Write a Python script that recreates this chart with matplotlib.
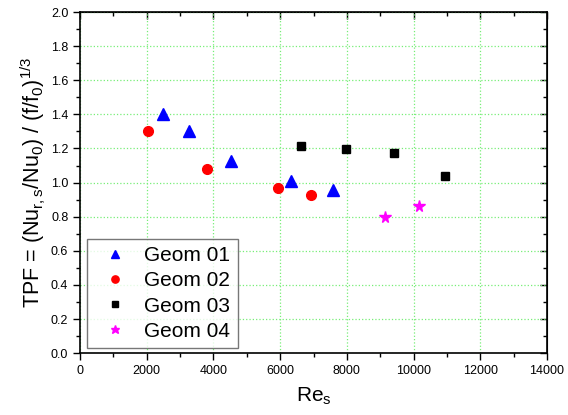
import numpy as np
import matplotlib
matplotlib.use("Agg")
from matplotlib import pyplot as plt
from matplotlib.ticker import MultipleLocator

plt.rcParams['font.family'] = ['Liberation Sans', 'DejaVu Sans']
plt.rcParams['mathtext.fontset'] = 'custom'
plt.rcParams['mathtext.rm'] = 'Liberation Sans'
plt.rcParams['mathtext.it'] = 'Liberation Sans'

# data
re_g1 = [2490, 3280, 4520, 6320, 7580]
tpf_g1 = [1.40, 1.30, 1.125, 1.01, 0.955]
re_g2 = [2040, 3810, 5940, 6910]
tpf_g2 = [1.305, 1.08, 0.97, 0.93]
re_g3 = [6610, 7960, 9420, 10930]
tpf_g3 = [1.215, 1.198, 1.176, 1.038]
re_g4 = [9130, 10150]
tpf_g4 = [0.798, 0.862]

fig = plt.figure(figsize=(5.68, 4.15), dpi=100)
ax = fig.add_axes([0.141, 0.149, 0.822, 0.822])

ax.plot(re_g1, tpf_g1, linestyle='none', marker='^', color='blue', markersize=8, label='Geom 01')
ax.plot(re_g2, tpf_g2, linestyle='none', marker='o', color='red', markersize=7, label='Geom 02')
ax.plot(re_g3, tpf_g3, linestyle='none', marker='s', color='black', markersize=5.5, label='Geom 03')
ax.plot(re_g4, tpf_g4, linestyle='none', marker='*', color='magenta', markersize=8.5, label='Geom 04')

ax.set_xlim(0, 14000)
ax.set_ylim(0, 2.0)
ax.xaxis.set_major_locator(MultipleLocator(2000))
ax.xaxis.set_minor_locator(MultipleLocator(1000))
ax.yaxis.set_major_locator(MultipleLocator(0.2))
ax.yaxis.set_minor_locator(MultipleLocator(0.1))
ax.yaxis.set_major_formatter(matplotlib.ticker.FormatStrFormatter('%.1f'))
ax.grid(True, which='major', color='#77ee77', linestyle=':', linewidth=0.9)

ax.tick_params(which='both', direction='out', top=False, right=False, labelsize=9, width=1)
ax.tick_params(which='major', length=5)
ax.tick_params(which='minor', length=3)
for side in ['top', 'right']:
    sec = ax.secondary_xaxis('top') if side == 'top' else ax.secondary_yaxis('right')
    axis = sec.xaxis if side == 'top' else sec.yaxis
    axis.set_major_locator(MultipleLocator(2000 if side == 'top' else 0.2))
    axis.set_minor_locator(MultipleLocator(1000 if side == 'top' else 0.1))
    sec.tick_params(which='both', direction='in', labelleft=False, labelright=False,
                    labeltop=False, labelbottom=False, width=1)
    sec.tick_params(which='major', length=5)
    sec.tick_params(which='minor', length=3)
for sp in ax.spines.values():
    sp.set_linewidth(1.2)

ax.set_xlabel('Re$_\\mathregular{s}$', fontsize=15, labelpad=6)
ax.set_ylabel('TPF = (Nu$_\\mathregular{r,s}$/Nu$_\\mathregular{0}$) / (f/f$_\\mathregular{0}$)$^\\mathregular{1/3}$',
              fontsize=15.5, labelpad=2)

leg = ax.legend(loc='lower left', bbox_to_anchor=(0.015, 0.015), fontsize=15, frameon=True,
                fancybox=False, edgecolor='#555555', handlelength=2.0, handletextpad=0.4,
                borderpad=0.35, borderaxespad=0, labelspacing=0.3, markerscale=0.75)
leg.get_frame().set_linewidth(1.0)

fig.savefig('out.png', dpi=100)
